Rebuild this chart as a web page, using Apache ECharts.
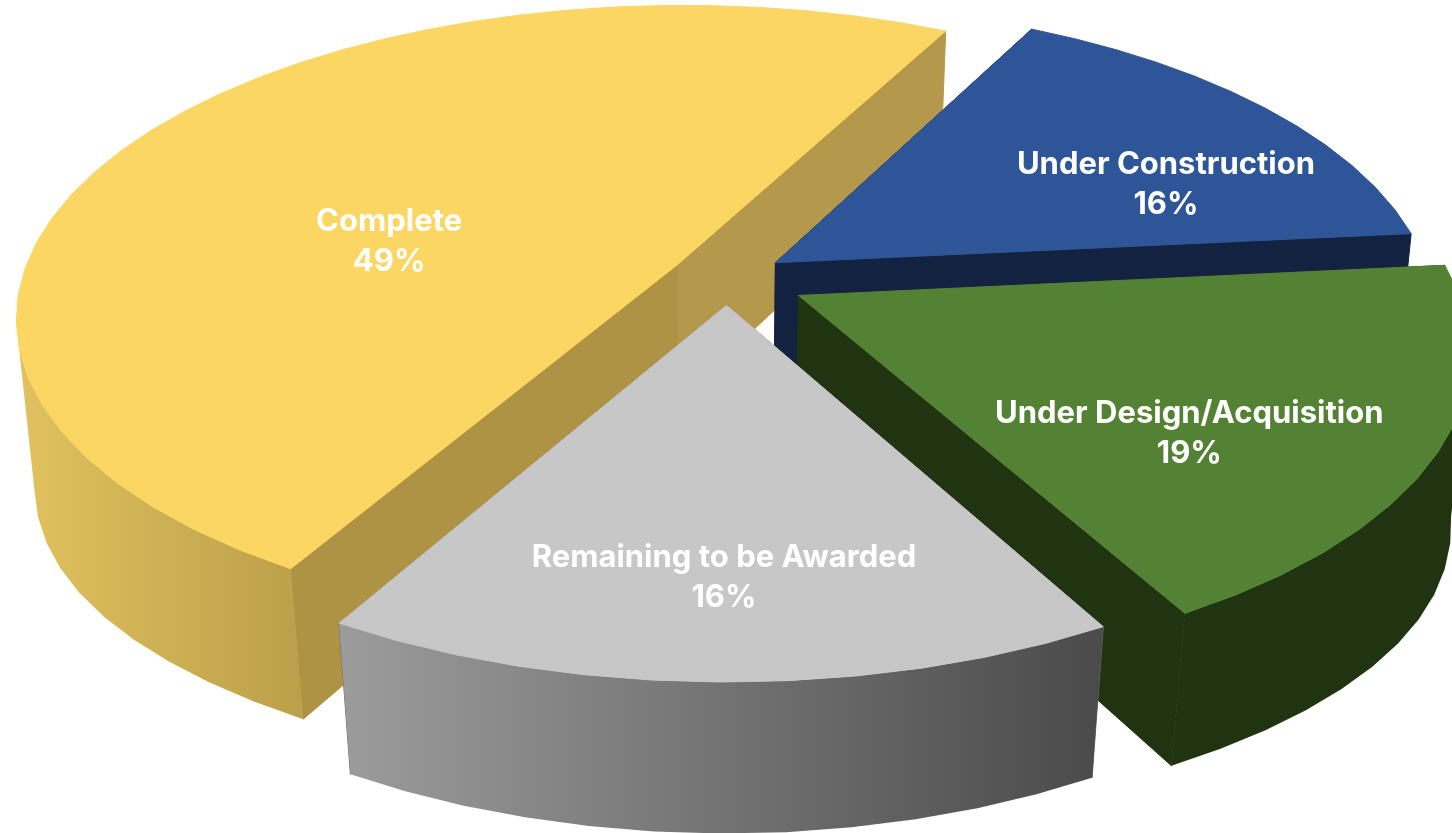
<!DOCTYPE html>
<html>
<head>
<meta charset="utf-8">
<style>
  html, body { margin: 0; padding: 0; background: #fff; }
  #main { width: 1452px; height: 833px; }
</style>
<script src="https://cdn.jsdelivr.net/npm/echarts@6/dist/echarts.min.js"></script>
</head>
<body>
<div id="main"></div>
<script>
// data
const categories = ['Complete', 'Under Construction', 'Under Design/Acquisition', 'Remaining to be Awarded']
const shares = [49.3, 15.8, 18.5, 16.4]

// look of each slice, same order as categories
const topColors = ['#fbd662', '#2e5597', '#548235', '#c7c7c7']
const sideColors = [['#ae9344', '#b4984b'], ['#132240', '#132240'], ['#203412', '#203412'], ['#6e6e6e', '#6e6e6e']]
const rimColors = [['#e2c25f', '#bb9f4a'], ['#132240', '#132240'], ['#203412', '#203412'], ['#9c9c9c', '#4a4a4a']]
const explode = [0.088, 0.09, 0.122, 0.088]
// label spots on the pie plane
const labelSpots = [[-0.526, 0.121], [0.705, 0.32], [0.652, -0.47], [-0.004, -0.846]]

// camera: pie plane -> screen
const startAngle = 210
const cam = { cx: 727, cy: 278, a: 655, b: 305.8, k: 0.1622, m: 0.0256, c: 139, bulge: 0.17 }
const project = (u, v, z) => {
  const w = 1 + cam.k * v + cam.m * z
  return [cam.cx + cam.a * u / w, cam.cy + (-cam.b * v + cam.c * (1 + cam.bulge * u ** 4) * z) / w]
}
const rad = d => d * Math.PI / 180

const total = shares.reduce((s, v) => s + v, 0)
let acc = startAngle
const slices = shares.map((v, i) => {
  const from = acc
  const to = acc + v / total * 360
  acc = to
  const mid = rad((from + to) / 2)
  return { from, to, ou: explode[i] * Math.sin(mid), ov: explode[i] * Math.cos(mid) }
})

const renderSlice = (params, api) => {
  const i = api.value(0)
  const s = slices[i]
  // arc broken in short pieces, like the original drawing
  const angles = []
  const steps = Math.ceil((s.to - s.from) / 5)
  for (let n = 0; n <= steps; n++) angles.push(s.from + (s.to - s.from) * n / steps)
  const rimAt = (deg, z) => project(s.ou + Math.sin(rad(deg)), s.ov + Math.cos(rad(deg)), z)
  const apexTop = project(s.ou, s.ov, 0)
  const apexBottom = project(s.ou, s.ov, 1)

  const poly = (points, fill, stroke) => ({
    type: 'polygon',
    shape: { points },
    style: { fill, stroke: stroke || null, lineWidth: 1 }
  })
  const children = []
  // flat walls along both straight edges
  ;[s.to, s.from].forEach((deg, n) => {
    const color = sideColors[i][1 - n]
    children.push(poly([apexTop, rimAt(deg, 0), rimAt(deg, 1), apexBottom], color, color))
  })
  // curved wall, only the part turned to the viewer
  const front = angles.filter(d => Math.cos(rad(d)) < -0.12)
  if (front.length > 1) {
    const pts = front.map(d => rimAt(d, 0)).concat(front.slice().reverse().map(d => rimAt(d, 1)))
    const fill = new echarts.graphic.LinearGradient(0, 0, 1, 0, [
      { offset: 0, color: rimColors[i][0] },
      { offset: 1, color: rimColors[i][1] }
    ])
    children.push(poly(pts, fill))
  }
  // top face, its stroke hides the wall hairlines
  children.push(poly([apexTop].concat(angles.map(d => rimAt(d, 0))), topColors[i], topColors[i]))
  // label
  const spot = project(labelSpots[i][0], labelSpots[i][1], 0)
  children.push({
    type: 'text',
    style: {
      text: categories[i] + '\n' + Math.round(shares[i] / total * 100) + '%',
      x: spot[0],
      y: spot[1],
      fill: '#ffffff',
      font: 'bold 31px Inter',
      lineHeight: 40,
      align: 'center',
      verticalAlign: 'middle'
    }
  })
  return { type: 'group', children }
}

const chart = echarts.init(document.getElementById('main'))
chart.setOption({
  backgroundColor: '#ffffff',
  animation: false,
  series: [{
    type: 'custom',
    coordinateSystem: 'none',
    renderItem: renderSlice,
    data: categories.map((c, i) => [i, shares[i]])
  }]
})
</script>
</body>
</html>
